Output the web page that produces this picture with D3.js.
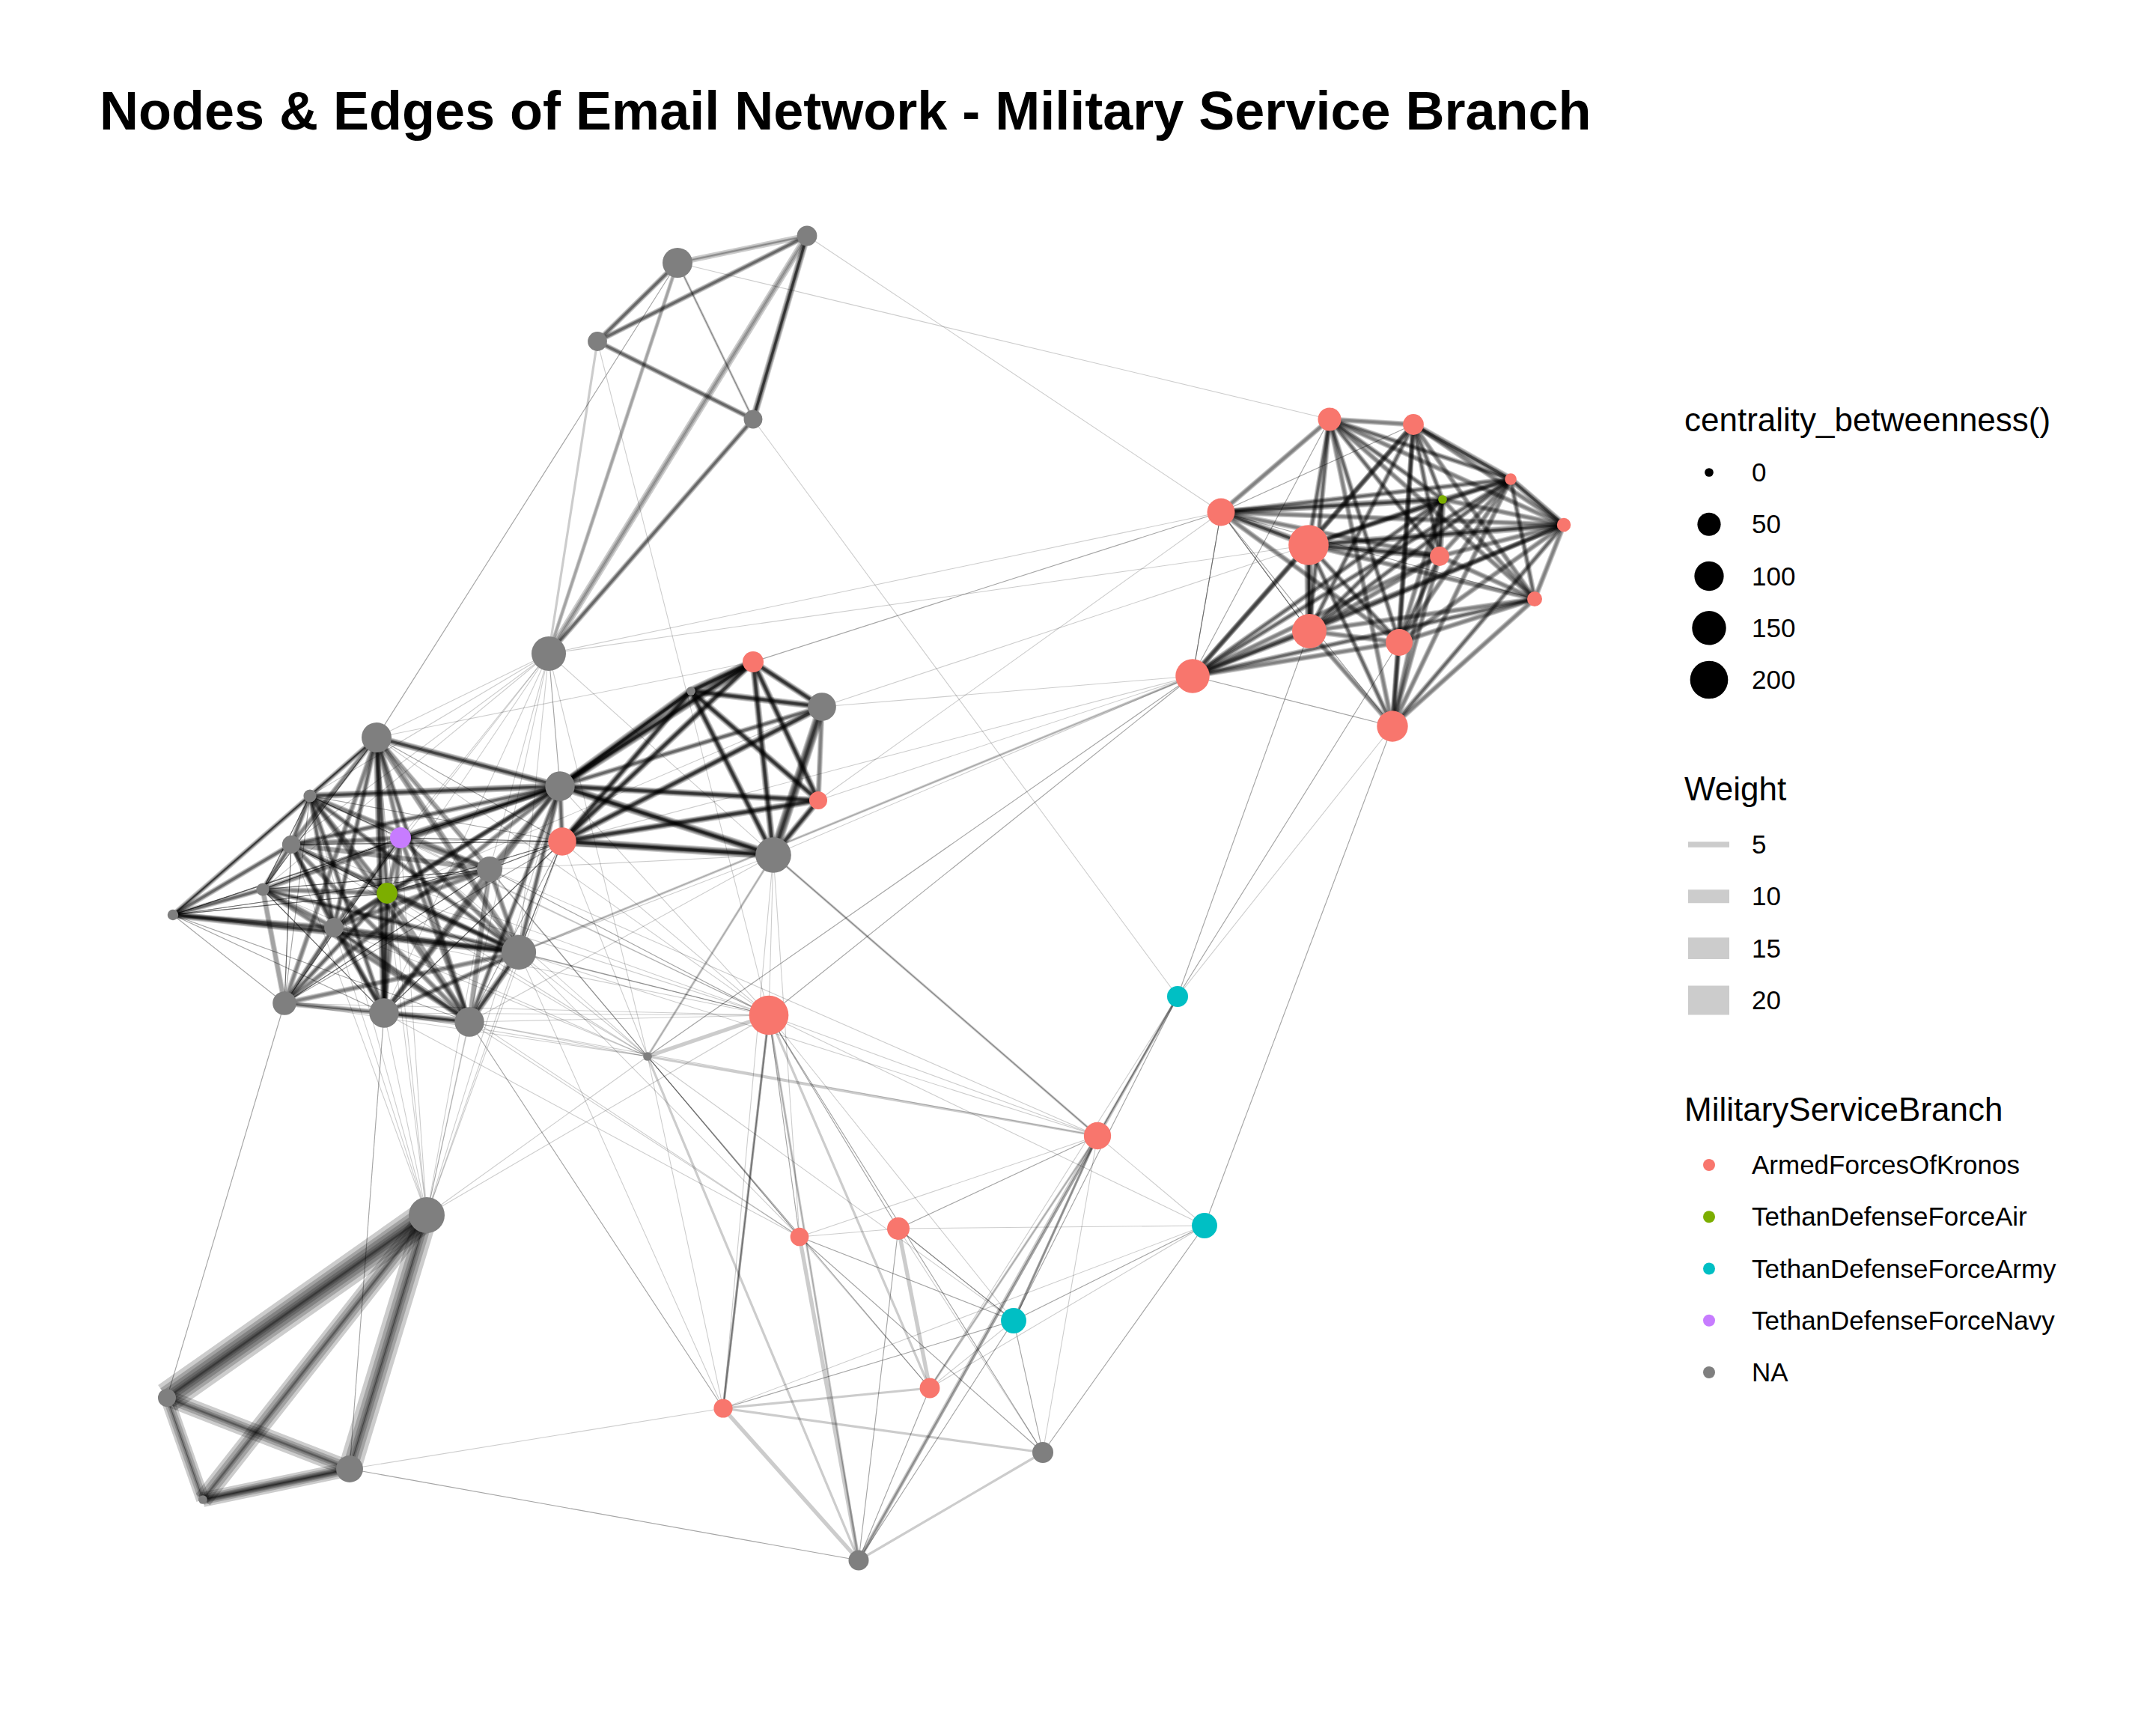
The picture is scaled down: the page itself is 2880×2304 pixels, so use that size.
<!DOCTYPE html>
<html>
<head>
<meta charset="utf-8">
<script src="https://cdn.jsdelivr.net/npm/d3@7"></script>
<style>
  body { margin: 0; background: #fff; }
  text { font-family: "Liberation Sans", Arial, sans-serif; }
</style>
</head>
<body>
<div id="chart"></div>
<script>
// node layout coordinates (graph layout units), betweenness and branch
const nodeIds = [1,2,3,4,5,6,7,8,9,10,11,12,13,14,15,16,17,18,19,20,21,22,23,24,25,26,27,
  28,29,30,31,32,33,34,35,36,37,38,39,40,41,42,43,44,45,46,47,48,49,50,51,52,53,54];
const nodeX = [-0.72,-2.45,-3.52,-1.44,-4.17,-6.47,-7.36,-7.61,-6.15,-6.33,-7.99,-9.19,-7.04,-4.96,
  -4.02,-4.57,-7.70,-6.37,-5.23,-3.99,-1.44,-0.52,-0.57,-1.17,-1.23,-2.85,-5.80,-9.27,-6.83,-8.79,
  -1.84,-0.82,0.50,0.92,2.04,2.43,-0.03,3.16,4.59,4.23,6.26,7.38,4.81,5.98,7.77,8.68,9.39,7.73,
  9.00,5.99,7.19,4.43,7.10,-2.27];
const nodeY = [8.85,8.49,7.44,6.40,3.27,2.15,1.37,0.72,0.81,0.07,0.12,-0.22,-0.39,0.39,1.50,-0.72,
  -1.40,-1.53,-1.65,0.76,3.16,2.56,1.31,0.58,-1.56,-2.11,-4.23,-6.67,-7.62,-8.03,-6.81,-4.52,-4.41,
  -6.54,-5.64,-7.40,-8.84,-3.17,-4.37,-1.31,6.40,6.33,5.16,4.72,5.33,5.60,4.99,4.57,4.00,3.57,3.42,
  2.97,2.30,2.77];
const betweenness = [30,105,26,23,155,105,4,21,35,34,4,1,26,65,101,157,52,101,101,88,35,89,20,170,
  221,0,173,20,77,0,24,22,44,30,65,35,31,80,65,35,49,34,84,231,0,2,6,26,9,154,77,150,116,0];
const K = "ArmedForcesOfKronos", AIR = "TethanDefenseForceAir", ARMY = "TethanDefenseForceArmy",
  NAVY = "TethanDefenseForceNavy", NA = "NA";
const branch = [NA,NA,NA,NA,NA,NA,NA,NA,NAVY,AIR,NA,NA,NA,NA,NA,NA,NA,NA,NA,K,K,NA,K,NA,K,NA,NA,
  NA,NA,NA,K,K,K,K,ARMY,NA,NA,K,ARMY,ARMY,K,K,K,K,AIR,K,K,K,K,K,K,K,K,NA];

// edges: source, target, weights of the individual emails between them
const edges = [
  // top group
  [1,2,[5,3,2]],[1,3,[3,3,4,5]],[1,4,[3,3,3,3,4,5,6]],[1,5,[6,4,2]],
  [2,3,[3,3,4,5]],[2,4,[3,2,2]],[2,5,[4,3]],[3,4,[3,3,4,5]],[3,5,[3]],
  [4,5,[3,3,4,5]],[2,6,[2,2]],
  [3,25,[2]],[4,40,[2]],[2,41,[2]],[1,43,[2]],[5,43,[2]],[5,44,[2]],
  [5,6,[2]],[5,7,[2]],[5,8,[2]],[5,9,[2]],[5,10,[2]],[5,11,[2]],[5,13,[2]],[5,14,[2]],
  [5,15,[2,2]],[5,16,[2]],[5,18,[2]],[5,27,[2]],[5,26,[2]],[5,24,[2]],
  // middle group
  [54,15,[3,3,3,3,4,4,5,6,7,3]],[54,20,[3,3,3,4,4,5,6]],[54,21,[3,3,3,3,4,4,5,6,7]],
  [54,22,[3,3,3,4,4,5,6]],[54,23,[3,3,3,4,4,5,6]],[54,24,[3,3,3,4,4,5,6]],
  [21,22,[3,3,3,4,4,5,6]],[21,23,[3,3,3,4,4,5,6]],[21,24,[3,3,3,4,4,5,6]],
  [21,15,[3,3,3,3,4,4,5,6,7]],[21,20,[3,3,3,4,4,5,6]],[22,24,[3,3,4,5,6,7,8]],
  [22,23,[3,4,5]],[22,15,[3,3,4,5]],[22,20,[3,3,3,4,4,5,6]],
  [15,23,[3,3,3,4,4,5,6]],[15,24,[3,3,3,3,4,4,5,6,7]],[15,20,[3,3,4,5]],
  [20,23,[3,3,3,4,4,5,6]],[20,24,[3,3,3,3,4,4,5,6,7]],[23,24,[3,3,3,4,4,5,6]],
  [21,43,[2,2]],[22,44,[2]],[23,43,[2]],[23,52,[2]],[22,52,[2]],[20,52,[2]],[16,52,[3,2]],
  [24,52,[2]],[25,52,[2,2]],[26,52,[2,2]],
  // left group
  [6,7,[3,3,4,5]],[6,8,[3,4,5]],[6,9,[3,4,5]],[6,10,[3,3,4,5]],[6,11,[2,2,2,2]],
  [6,12,[2,2,2,2]],[6,13,[3,3,4,5]],[6,14,[4,5]],[6,15,[3,3,3,4,5,6]],
  [6,16,[5,6,3]],[6,17,[3,4,5]],[6,18,[3,3,3,4,5,6]],[6,19,[3,3,4,5]],[6,20,[2,2]],
  [7,8,[3,3,4,5]],[7,9,[2,2,2,2]],[7,10,[3,4,5]],[7,11,[2,2,2,2]],
  [7,12,[3,3,4,5]],[7,13,[3,3,4,5]],[7,14,[3,4,5]],[7,15,[3,3,3,4,5,6]],
  [7,16,[3,3,4,5]],[7,17,[2,2]],[7,18,[3,3,4,5]],[7,19,[3,4,5]],[7,20,[2,2]],
  [8,9,[3,4,5]],[8,10,[2,2,2,2]],[8,11,[3,3,4,5]],[8,12,[3,3,4,5]],
  [8,13,[3,3,4,5]],[8,14,[4,5]],[8,15,[3,3,4,5]],[8,16,[3,3,4,5]],
  [8,17,[2,2,2,2]],[8,18,[3,4,5]],[8,19,[3,4,5]],[8,20,[2,2,2,2]],
  [9,10,[3,4,5]],[9,11,[2,2,2,2]],[9,12,[2,2]],[9,13,[3,4,5]],[9,14,[4,5]],
  [9,15,[3,3,3,4,5,6]],[9,16,[3,4,5]],[9,17,[2,2,2,2]],[9,18,[3,4,5]],
  [9,19,[3,4,5]],[9,20,[2,2,2,2]],
  [10,11,[3,4,5]],[10,12,[2,2,2,2]],[10,13,[3,4,5]],[10,14,[3,3,4,5]],
  [10,15,[3,3,4,5]],[10,16,[3,3,4,5]],[10,17,[3,3,4,5]],[10,18,[3,3,3,4,5,6]],
  [10,19,[4,5]],[10,20,[2,2,2,2]],
  [11,12,[3,3,4,5]],[11,13,[3,4,5]],[11,14,[2,2,2,2]],[11,15,[3,4,5]],
  [11,16,[3,3,4,5]],[11,17,[4,5]],[11,18,[2,2,2,2]],[11,19,[3,4,5]],
  [12,13,[3,3,4,5]],[12,14,[2,2,2,2]],[12,15,[2,2,2,2]],[12,16,[3,3,3,4,5,6]],
  [12,17,[2,2]],[12,18,[2,2]],[12,19,[2,2]],
  [13,14,[3,4,5]],[13,15,[3,4,5]],[13,16,[3,3,4,5]],[13,17,[3,3,4,5]],
  [13,18,[3,3,4,5]],[13,19,[3,3,4,5]],
  [14,15,[3,4,5]],[14,16,[3,4,5]],[14,17,[2,2,2,2]],[14,18,[3,4,5]],[14,19,[4,5]],
  [14,20,[2,2,2,2]],
  [15,16,[3,3,4,5]],[15,17,[3,4,5]],[15,18,[3,4,5]],[15,19,[3,3,4,5]],
  [16,17,[3,4,5]],[16,18,[3,3,4,5]],[16,19,[3,3,3,4,5,6]],[16,20,[2,2,2,2]],
  [17,18,[3,4,5]],[17,19,[2,2]],[17,20,[2,2]],[18,19,[3,3,3,4,5,6]],
  [18,20,[2,2,2,2]],[19,20,[2,2]],
  [14,24,[2]],[16,24,[2]],[9,24,[2]],[10,22,[2]],[6,21,[2]],[19,24,[2]],
  // fans from the left group
  [6,25,[2]],[7,25,[2]],[8,25,[2]],[9,25,[2]],[10,25,[2]],[11,25,[2]],[13,25,[2]],[14,25,[2,2]],
  [16,25,[2,2]],[17,25,[2]],[18,25,[2]],[19,25,[2]],[15,25,[2]],[20,25,[2]],
  [6,26,[2]],[8,26,[2]],[9,26,[2]],[10,26,[2]],[11,26,[2]],[13,26,[2]],[14,26,[2]],
  [16,26,[2]],[17,26,[2]],[18,26,[2]],[19,26,[2]],[20,26,[2]],
  [6,27,[2]],[7,27,[2]],[8,27,[2]],[9,27,[2]],[10,27,[2]],[13,27,[2]],[14,27,[2]],[15,27,[2]],
  [16,27,[2]],[18,27,[2]],[19,27,[2]],[20,27,[2]],[26,27,[2]],[25,27,[2]],
  [16,38,[2]],[19,38,[2]],[14,38,[2]],[13,32,[2]],[16,32,[2]],[19,32,[2]],[14,32,[2]],
  [18,32,[2]],[19,31,[2,2]],[16,31,[2]],
  // bottom-left group
  [27,28,[21,16,12,8,5,3,2]],[27,29,[16,11,7,4,2,2]],[27,30,[13,9,5,3,2]],
  [28,29,[12,8,5,3,2]],[28,30,[10,7,4,2,2]],[29,30,[11,8,6,5,4,3,2,2]],
  [17,28,[2,2]],[18,29,[2,2]],[29,37,[2,2]],[29,31,[2]],
  // bottom-middle group
  [25,31,[2,3,3,2]],[25,32,[2,2]],[25,33,[2,2]],[25,34,[3]],[25,35,[2]],[25,36,[2,2]],
  [25,37,[3,2]],[25,38,[2]],[25,39,[2]],[25,26,[4]],[25,24,[2]],
  [26,24,[3,2]],[26,38,[3]],[26,32,[2,2]],[26,34,[2,2]],[26,37,[3]],[26,35,[2]],[26,31,[2]],
  [24,38,[2,3,2]],[24,32,[2]],[24,31,[2]],
  [31,34,[3]],[31,35,[2,2]],[31,36,[3]],[31,37,[4]],[31,39,[2]],
  [32,33,[2]],[32,34,[2]],[32,35,[2,2]],[32,36,[2,2]],[32,37,[4]],[32,38,[2]],
  [33,34,[4]],[33,35,[2,2,2]],[33,37,[2,2]],[33,38,[2,2]],[33,39,[2]],[33,36,[2]],
  [34,35,[2]],[34,38,[2,3]],[34,37,[2,2]],[34,40,[2]],[34,39,[2]],
  [35,36,[2,2]],[35,37,[2,2]],[35,38,[3,3,2]],[35,39,[2,2]],[35,40,[2,2]],
  [36,37,[3]],[36,38,[2]],[36,39,[2,2]],[37,38,[4,2]],[37,40,[3]],[38,39,[2]],[38,40,[2,2,3]],
  [39,53,[2,2]],[40,50,[2,2]],[40,51,[2,2]],[40,53,[2]],[52,53,[2,2]],
  // right group
  [41,42,[3,4,5]],[41,43,[3,4,5]],[41,44,[3,3,4,5]],[41,45,[3,3,4,5]],
  [41,46,[3,3,4,5]],[41,47,[3,4,5]],[41,48,[3,3,4,5]],[41,49,[3,4,5]],
  [41,50,[3,3,4,5]],[41,51,[3,3,4,5]],[41,52,[2,2]],[41,53,[3,4,5]],
  [42,43,[2,2]],[42,44,[3,4,5]],[42,45,[3,3,4,5]],[42,46,[3,3,3,4,5,6]],
  [42,47,[3,4,5]],[42,48,[3,3,4,5]],[42,49,[3,4,5]],[42,50,[3,3,4,5]],
  [42,51,[3,3,4,5]],[42,52,[3,4,5]],[42,53,[3,4,5]],
  [43,44,[3,3,3,4,5,6]],[43,45,[3,3,3,4,5,6]],[43,46,[3,3,4,5]],[43,47,[3,4,5]],
  [43,48,[3,4,5]],[43,49,[2,2]],[43,50,[2,2,2,2]],[43,51,[3,4,5]],
  [43,52,[2,2,2,2]],[43,53,[2,2]],
  [44,45,[3,3,4,5]],[44,46,[3,3,4,5]],[44,47,[3,3,3,4,5,6]],
  [44,48,[3,3,3,4,5,6]],[44,49,[3,4,5]],[44,50,[3,3,3,3,4,5,6,7]],
  [44,51,[3,3,4,5]],[44,52,[3,4,5]],[44,53,[3,3,4,5]],
  [45,46,[3,4,5]],[45,47,[3,4,5]],[45,48,[3,3,3,4,5,6]],[45,49,[3,4,5]],
  [45,50,[3,3,4,5]],[45,51,[3,4,5]],[45,52,[3,3,4,5]],[45,53,[3,4,5]],
  [46,47,[3,3,3,4,5,6]],[46,48,[3,4,5]],[46,49,[3,3,4,5]],[46,50,[3,3,4,5]],
  [46,51,[3,4,5]],[46,52,[3,3,4,5]],[46,53,[3,4,5]],
  [47,48,[3,4,5]],[47,49,[3,4,5]],[47,50,[3,3,4,5]],[47,51,[3,4,5]],
  [47,52,[3,4,5]],[47,53,[3,3,4,5]],
  [48,49,[3,4,5]],[48,50,[3,4,5]],[48,51,[3,3,4,5]],[48,52,[3,4,5]],[48,53,[3,4,5]],
  [49,50,[3,4,5]],[49,51,[3,4,5]],[49,52,[3,3,4,5]],[49,53,[3,4,5]],
  [50,51,[3,4,5]],[50,52,[3,3,4,5]],[50,53,[3,4,5]],[51,52,[3,4,5]],
  [51,53,[3,3,4,5]]
];

// legend values
const sizeBreaks = [0, 50, 100, 150, 200];
const weightBreaks = [5, 10, 15, 20];
const branches = [K, AIR, ARMY, NAVY, NA];
const branchColors = ["#F8766D", "#7CAE00", "#00BFC4", "#C77CFF", "#7F7F7F"];

const W = 2880, H = 2304;
const svg = d3.select("#chart").append("svg")
  .attr("width", W).attr("height", H)
  .style("display", "block");

const xScale = d3.scaleLinear().domain([-10, 10]).range([150, 2150]);
const yScale = d3.scaleLinear().domain([-10, 10]).range([2200, 200]);
const sizeScale = d3.scaleSqrt().domain([0, 200]).range([5.85, 25.35]);
const widthScale = d3.scaleLinear().domain([2, 23]).range([1.1, 45.5]);
const colorScale = d3.scaleOrdinal().domain(branches).range(branchColors);

const nodes = nodeIds.map((id, i) => ({
  id: id, x: nodeX[i], y: nodeY[i], b: betweenness[i], branch: branch[i]
}));
const byId = new Map(nodes.map(d => [d.id, d]));

const links = edges.flatMap(([s, t, ws]) => ws.map(w => ({ s: byId.get(s), t: byId.get(t), w: w })));

svg.append("text")
  .attr("x", 133).attr("y", 173)
  .attr("font-size", 72).attr("font-weight", "bold")
  .text("Nodes & Edges of Email Network - Military Service Branch");

svg.append("g")
  .selectAll("line")
  .data(links)
  .enter()
  .append("line")
  .attr("x1", d => xScale(d.s.x))
  .attr("y1", d => yScale(d.s.y))
  .attr("x2", d => xScale(d.t.x))
  .attr("y2", d => yScale(d.t.y))
  .attr("stroke", "black")
  .attr("stroke-opacity", 0.2)
  .attr("stroke-width", d => widthScale(d.w));

svg.append("g")
  .selectAll("circle")
  .data(nodes)
  .enter()
  .append("circle")
  .attr("cx", d => xScale(d.x))
  .attr("cy", d => yScale(d.y))
  .attr("r", d => sizeScale(d.b))
  .attr("fill", d => colorScale(d.branch));

// legends
const keyX = 2283, labelX = 2340;
const lg = svg.append("g");

lg.append("text").attr("x", 2250).attr("y", 576).attr("font-size", 44)
  .text("centrality_betweenness()");
const sizeY = d3.scalePoint().domain(sizeBreaks).range([631, 908]);
lg.selectAll(".sk").data(sizeBreaks).enter().append("circle")
  .attr("cx", keyX).attr("cy", d => sizeY(d)).attr("r", d => sizeScale(d)).attr("fill", "black");
lg.selectAll(".sl").data(sizeBreaks).enter().append("text")
  .attr("x", labelX).attr("y", d => sizeY(d) + 12).attr("font-size", 35).text(d => d);

lg.append("text").attr("x", 2250).attr("y", 1069).attr("font-size", 44).text("Weight");
const weightY = d3.scalePoint().domain(weightBreaks).range([1128, 1336]);
lg.selectAll(".wk").data(weightBreaks).enter().append("line")
  .attr("x1", 2255).attr("x2", 2310)
  .attr("y1", d => weightY(d)).attr("y2", d => weightY(d))
  .attr("stroke", "black").attr("stroke-opacity", 0.2)
  .attr("stroke-width", d => widthScale(d));
lg.selectAll(".wl").data(weightBreaks).enter().append("text")
  .attr("x", labelX).attr("y", d => weightY(d) + 12).attr("font-size", 35).text(d => d);

lg.append("text").attr("x", 2250).attr("y", 1497).attr("font-size", 44).text("MilitaryServiceBranch");
const branchY = d3.scalePoint().domain(branches).range([1556, 1833]);
lg.selectAll(".ck").data(branches).enter().append("circle")
  .attr("cx", keyX).attr("cy", d => branchY(d)).attr("r", 8).attr("fill", d => colorScale(d));
lg.selectAll(".cl").data(branches).enter().append("text")
  .attr("x", labelX).attr("y", d => branchY(d) + 12).attr("font-size", 35).text(d => d);
</script>
</body>
</html>
